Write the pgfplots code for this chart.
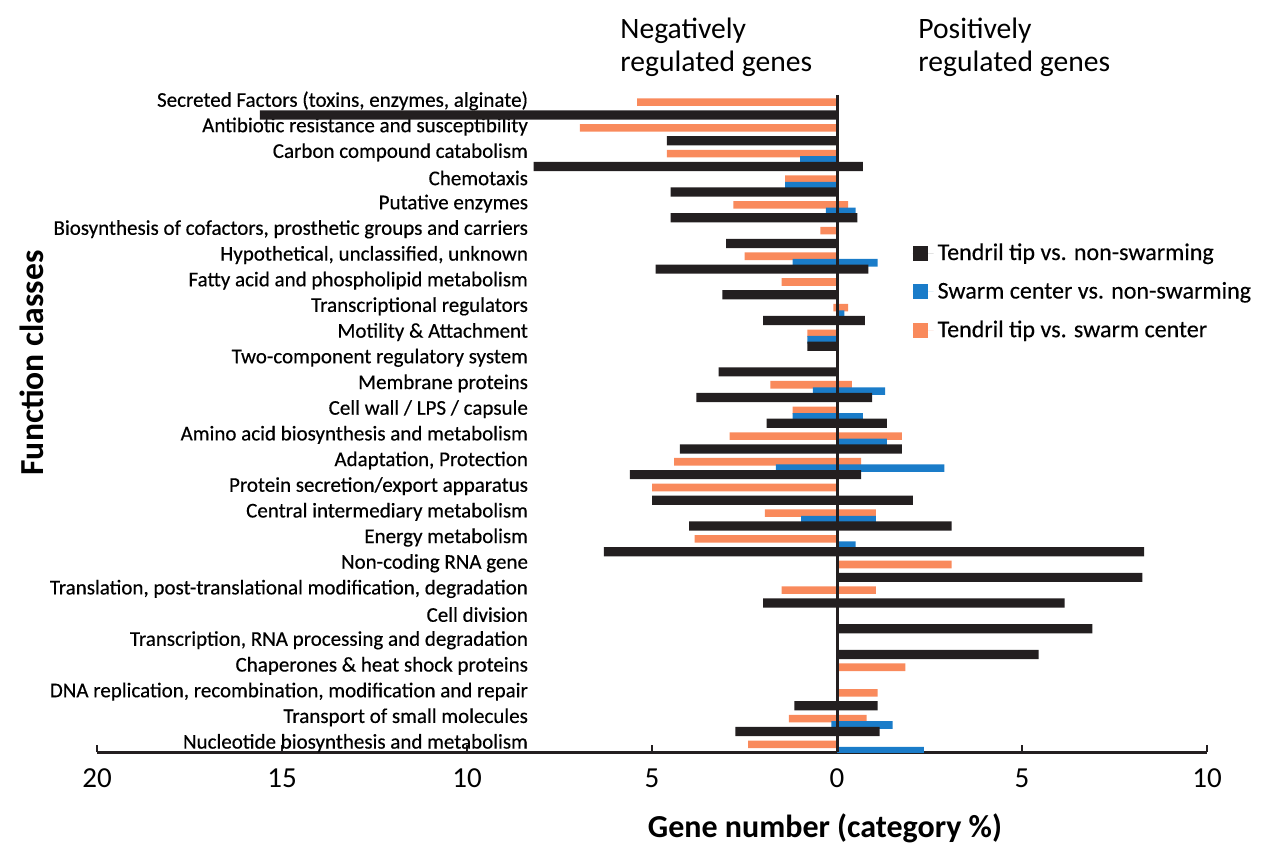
\documentclass[border=0pt]{standalone}
\usepackage{fontspec}
\setmainfont{Carlito}
\usepackage{pgfplots}
\usepackage{pgfplotstable}
\pgfplotsset{compat=1.18}
\definecolor{cblack}{HTML}{231F20}
\definecolor{cblue}{HTML}{1A7CC9}
\definecolor{corange}{HTML}{F98A5C}
% c = category index (top to bottom); b = tendril tip vs non-swarming,
% u = swarm center vs non-swarming, o = tendril tip vs swarm center; n = negative, p = positive
\pgfplotstableread{
c bn bp un up on op
0 -15.6 0 0 0 -5.4 0
1 -4.6 0 0 0 -6.95 0
2 -8.2 0.7 -1.0 0 -4.6 0
3 -4.5 0 -1.4 0 -1.4 0
4 -4.5 0.55 -0.3 0.5 -2.8 0.3
5 -3.0 0 0 0 -0.45 0
6 -4.9 0.85 -1.2 1.1 -2.5 0
7 -3.1 0 0 0 -1.5 0
8 -2.0 0.75 0 0.2 -0.1 0.3
9 -0.8 0 -0.8 0 -0.8 0
10 -3.2 0 0 0 0 0
11 -3.8 0.95 -0.65 1.3 -1.8 0.4
12 -1.9 1.35 -1.2 0.7 -1.2 0
13 -4.25 1.75 0 1.35 -2.9 1.75
14 -5.6 0.65 -1.65 2.9 -4.4 0.65
15 -5.0 2.05 0 0 -5.0 0
16 -4.0 3.1 -0.97 1.05 -1.95 1.05
17 -6.3 8.3 0 0.5 -3.85 0
18 0 8.25 0 0 0 3.1
19 -2.0 6.15 0 0 -1.5 1.05
20 0 6.9 0 0 0 0
21 0 5.45 0 0 0 0
22 0 0 0 0 0 1.85
23 -1.15 1.1 0 0 0 1.1
24 -2.75 1.15 -0.15 1.5 -1.3 0.8
25 0 0 0 2.35 -2.4 0
}\data
\begin{document}
\begin{tikzpicture}
\begin{axis}[
  at={(48.5pt,47pt)}, anchor=south west,
  scale only axis, width=555pt, height=328.5pt,
  xmin=-20, xmax=10, ymin=-0.23, ymax=25.35, y dir=reverse,
  xbar, bar shift=0pt,
  axis x line*=bottom, axis y line*=left,
  x axis line style={line width=1.5pt, cblack, -},
  y axis line style={draw=none},
  ytick style={draw=none},
  xtick style={line width=1pt, cblack},
  tick align=inside, major tick length=3.5pt,
  xtick={-20,-15,-10,-5,0,5,10},
  xticklabels={20,15,10,5,0,5,10},
  /pgf/number format/assume math mode=true,
  xticklabel style={font=\fontsize{14.5}{17}\selectfont, yshift=-5pt},
  ytick={0,...,25},
  yticklabels={
    {Secreted Factors (toxins, enzymes, alginate)},
    {Antibiotic resistance and susceptibility},
    {Carbon compound catabolism},
    {Chemotaxis},
    {Putative enzymes},
    {Biosynthesis of cofactors, prosthetic groups and carriers},
    {Hypothetical, unclassified, unknown},
    {Fatty acid and phospholipid metabolism},
    {Transcriptional regulators},
    {Motility \& Attachment},
    {Two-component regulatory system},
    {Membrane proteins},
    {Cell wall / LPS / capsule},
    {Amino acid biosynthesis and metabolism},
    {Adaptation, Protection},
    {Protein secretion/export apparatus},
    {Central intermediary metabolism},
    {Energy metabolism},
    {Non-coding RNA gene},
    {Translation, post-translational modification, degradation},
    {Cell division},
    {Transcription, RNA processing and degradation},
    {Chaperones \& heat shock proteins},
    {DNA replication, recombination, modification and repair},
    {Transport of small molecules},
    {Nucleotide biosynthesis and metabolism}},
  yticklabel style={font=\fontsize{10.5}{12}\selectfont\addfontfeatures{FakeBold=0.4}, anchor=east, xshift=219pt},
  legend style={at={(0.729,0.787)}, anchor=north west, draw=none, fill=none,
    font=\fontsize{12}{14}\selectfont\addfontfeatures{FakeBold=0.3}, row sep=5.5pt},
  legend cell align=left,
  legend image code/.code={\fill (0pt,-3.75pt) rectangle (7.5pt,3.75pt); \path (0pt,0pt) -- (10.5pt,0pt);},
]
\addplot[fill=corange, draw=none, bar width=3.8pt, forget plot] table[x=on, y expr=\thisrow{c}+0.05]{\data};
\addplot[fill=corange, draw=none, bar width=3.8pt, forget plot] table[x=op, y expr=\thisrow{c}+0.05]{\data};
\addplot[fill=cblue, draw=none, bar width=3.8pt, forget plot] table[x=un, y expr=\thisrow{c}+0.3]{\data};
\addplot[fill=cblue, draw=none, bar width=3.8pt, forget plot] table[x=up, y expr=\thisrow{c}+0.3]{\data};
\addplot[fill=cblack, draw=none, bar width=4.6pt, forget plot] table[x=bn, y expr=\thisrow{c}+0.55]{\data};
\addplot[fill=cblack, draw=none, bar width=4.6pt, forget plot] table[x=bp, y expr=\thisrow{c}+0.55]{\data};
\draw[cblack, line width=1.5pt] (axis cs:0,-0.23) -- (axis cs:0,25.35);
\addlegendimage{fill=cblack, draw=none}
\addlegendentry{Tendril tip vs. non-swarming}
\addlegendimage{fill=cblue, draw=none}
\addlegendentry{Swarm center vs. non-swarming}
\addlegendimage{fill=corange, draw=none}
\addlegendentry{Tendril tip vs. swarm center}
\end{axis}
\node[anchor=north west, align=left, inner sep=0pt, font=\fontsize{14.8}{16.5}\selectfont] at (310pt,414pt) {Negatively\\regulated genes};
\node[anchor=north west, align=left, inner sep=0pt, font=\fontsize{14.8}{16.5}\selectfont] at (459pt,414pt) {Positively\\regulated genes};
\node[rotate=90, font=\bfseries\fontsize{16.8}{19}\selectfont] at (16pt,241.5pt) {Function classes};
\node[font=\bfseries\fontsize{16}{19}\selectfont] at (412.5pt,9pt) {Gene number (category \%)};
\pgfresetboundingbox
\useasboundingbox (0,0) rectangle (631pt,423pt);
\end{tikzpicture}
\end{document}
